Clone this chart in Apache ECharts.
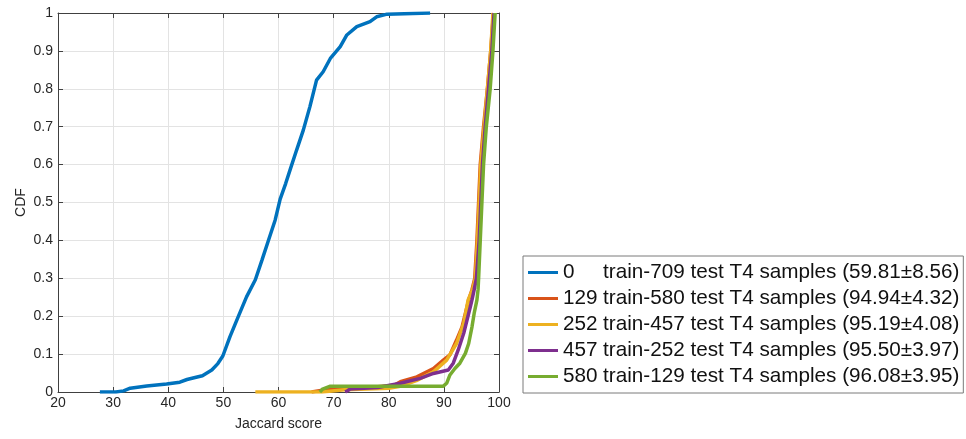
<!DOCTYPE html>
<html><head><meta charset="utf-8">
<script src="https://cdn.jsdelivr.net/npm/echarts@6/dist/echarts.min.js"></script>
<style>html,body{margin:0;padding:0;background:#fff}#c{width:966px;height:439px}</style>
</head><body><div id="c"></div>
<script>
var seriesNames = [
  ['0', 'train-709 test T4 samples (59.81\u00b18.56)'],
  ['129', 'train-580 test T4 samples (94.94\u00b14.32)'],
  ['252', 'train-457 test T4 samples (95.19\u00b14.08)'],
  ['457', 'train-252 test T4 samples (95.50\u00b13.97)'],
  ['580', 'train-129 test T4 samples (96.08\u00b13.95)']
];
var colors = ['#0072BD', '#D95319', '#EDB120', '#7E2F8E', '#77AC30'];
var xTicks = [20, 30, 40, 50, 60, 70, 80, 90, 100];
var yTicks = [0, 0.1, 0.2, 0.3, 0.4, 0.5, 0.6, 0.7, 0.8, 0.9, 1];

var blueX = [27.6, 30.5, 31.9, 33.1, 36.1, 39.7, 42.1, 43.4, 44.5, 46.2, 47.9, 49.0, 49.9, 51.2, 52.7, 54.2, 55.8, 57.0, 58.2, 59.4, 60.3, 61.3, 62.1, 63.3, 64.5, 65.7, 66.9, 68.1, 69.4, 71.2, 72.4, 74.2, 76.6, 77.8, 79.7, 87.5];
var blueY = [0, 0, 0.003, 0.01, 0.016, 0.021, 0.026, 0.033, 0.037, 0.043, 0.058, 0.075, 0.095, 0.146, 0.199, 0.251, 0.296, 0.348, 0.401, 0.454, 0.509, 0.55, 0.586, 0.639, 0.691, 0.753, 0.823, 0.845, 0.88, 0.911, 0.942, 0.964, 0.977, 0.99, 0.997, 1];

var orangeX = [66, 68, 72, 78, 81, 82.1, 85.1, 88.1, 89.9, 91.1, 92.3, 93.3, 94.2, 94.5, 95.1, 95.6, 96.0, 96.3, 96.6, 97.2, 97.9, 98.5, 99.0];
var orangeY = [0, 0.005, 0.01, 0.014, 0.018, 0.027, 0.04, 0.062, 0.084, 0.098, 0.137, 0.172, 0.225, 0.243, 0.27, 0.3, 0.4, 0.5, 0.6, 0.7, 0.8, 0.9, 1];

var yellowX = [55.8, 67.9, 68, 72, 80, 82.1, 85, 88.1, 90.5, 92.3, 93.6, 94.4, 95.2, 95.7, 96.1, 96.4, 96.7, 97.3, 97.9, 98.5, 98.9];
var yellowY = [0, 0, 0.004, 0.006, 0.01, 0.015, 0.03, 0.053, 0.084, 0.128, 0.181, 0.243, 0.27, 0.3, 0.4, 0.5, 0.6, 0.7, 0.8, 0.9, 1];

var purpleX = [72.1, 72.6, 73, 78, 82.1, 85.7, 88.1, 90.8, 91.7, 92.6, 93.6, 94.2, 94.8, 95.1, 95.5, 95.9, 96.4, 96.7, 97.0, 97.5, 98.1, 98.7, 99.1];
var purpleY = [0, 0.004, 0.008, 0.012, 0.023, 0.036, 0.049, 0.058, 0.076, 0.111, 0.155, 0.19, 0.225, 0.243, 0.27, 0.3, 0.4, 0.5, 0.6, 0.7, 0.8, 0.9, 1];

var greenX = [67.5, 68, 69.4, 89.9, 90.5, 91.1, 92.0, 92.9, 93.9, 94.5, 95.1, 95.5, 96.0, 96.2, 96.3, 96.6, 96.9, 97.2, 97.7, 98.4, 98.9, 99.3];
var greenY = [0, 0.0078, 0.0155, 0.0155, 0.023, 0.045, 0.062, 0.076, 0.102, 0.128, 0.172, 0.208, 0.243, 0.27, 0.3, 0.4, 0.5, 0.6, 0.7, 0.8, 0.9, 1];

var allX = [blueX, orangeX, yellowX, purpleX, greenX];
var allY = [blueY, orangeY, yellowY, purpleY, greenY];

function pairs(xs, ys) { return xs.map(function (x, i) { return [x, ys[i]]; }); }

var FONT = 'Liberation Sans, Arial, Helvetica, sans-serif';
var TXT = '#262626';
var AX = '#404040';

var series = seriesNames.map(function (n, i) {
  return {
    name: n[0] + '|' + n[1],
    type: 'line',
    data: pairs(allX[i], allY[i]),
    showSymbol: false,
    symbol: 'none',
    lineStyle: { width: 3.5, color: colors[i] },
    itemStyle: { color: colors[i] },
    z: 2 + i,
    animation: false
  };
});

var chart = echarts.init(document.getElementById('c'), null, { renderer: 'canvas' });
chart.setOption({
  animation: false,
  backgroundColor: '#fff',
  grid: { left: 58, top: 13, width: 441, height: 379, containLabel: false },
  xAxis: [{
    type: 'value', min: xTicks[0], max: xTicks[xTicks.length - 1], interval: 10,
    name: 'Jaccard score', nameLocation: 'middle', nameGap: 25,
    nameTextStyle: { fontFamily: FONT, fontSize: 14, color: TXT },
    axisLine: { show: true, lineStyle: { color: AX, width: 1 } },
    axisTick: { show: true, inside: true, length: 5, lineStyle: { color: AX } },
    axisLabel: { fontFamily: FONT, fontSize: 14, color: TXT, margin: 4 },
    splitLine: { show: true, lineStyle: { color: '#e3e3e3', width: 1 } }
  }, {
    type: 'value', position: 'top', min: xTicks[0], max: xTicks[xTicks.length - 1], interval: 10,
    axisLine: { show: true, onZero: false, lineStyle: { color: AX, width: 1 } },
    axisTick: { show: true, inside: true, length: 5, lineStyle: { color: AX } },
    axisLabel: { show: false }, splitLine: { show: false }
  }],
  yAxis: [{
    type: 'value', min: yTicks[0], max: yTicks[yTicks.length - 1], interval: 0.1,
    name: 'CDF', nameLocation: 'middle', nameGap: 30, nameRotate: 90,
    nameTextStyle: { fontFamily: FONT, fontSize: 14, color: TXT },
    axisLine: { show: true, lineStyle: { color: AX, width: 1 } },
    axisTick: { show: true, inside: true, length: 5, lineStyle: { color: AX } },
    axisLabel: { fontFamily: FONT, fontSize: 14, color: TXT, margin: 5 },
    splitLine: { show: true, lineStyle: { color: '#e3e3e3', width: 1 } }
  }, {
    type: 'value', position: 'right', min: yTicks[0], max: yTicks[yTicks.length - 1], interval: 0.1,
    axisLine: { show: true, onZero: false, lineStyle: { color: AX, width: 1 } },
    axisTick: { show: true, inside: true, length: 5, lineStyle: { color: AX } },
    axisLabel: { show: false }, splitLine: { show: false }
  }],
  legend: {
    orient: 'vertical', left: 523, top: 256,
    padding: [6, 4, 6, 5], itemGap: 5,
    itemWidth: 30, itemHeight: 3, icon: 'rect',
    borderColor: '#7a7a7a', borderWidth: 1, backgroundColor: '#fff',
    data: series.map(function (s) { return s.name; }),
    formatter: function (name) {
      var p = name.split('|');
      return '{n|' + p[0] + '}{t|' + p[1] + '}';
    },
    textStyle: {
      fontFamily: FONT, fontSize: 20.7, color: '#111',
      rich: {
        n: { fontFamily: FONT, fontSize: 20.7, color: '#111', width: 40, lineHeight: 22 },
        t: { fontFamily: FONT, fontSize: 20.7, color: '#111', lineHeight: 22 }
      }
    }
  },
  series: series
});
</script></body></html>
